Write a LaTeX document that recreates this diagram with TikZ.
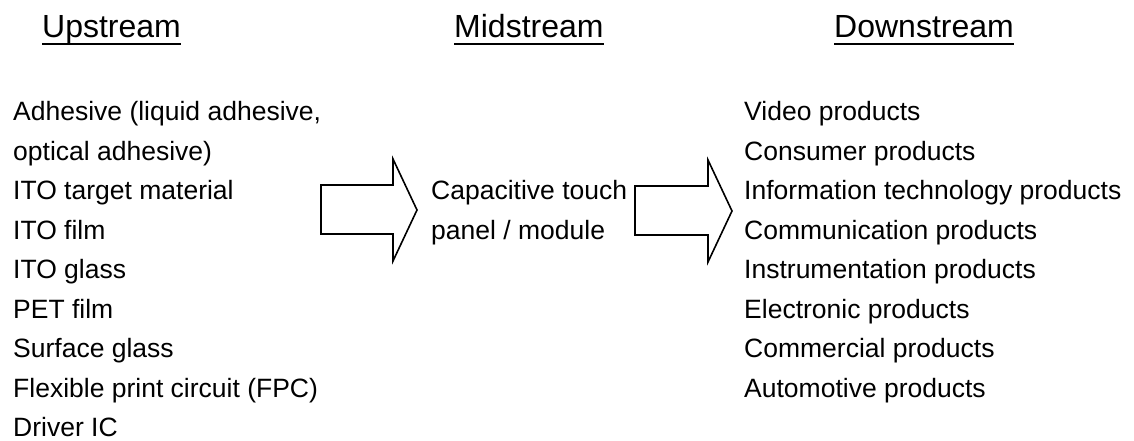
\documentclass[tikz,border=0pt]{standalone}
\usepackage{fontspec}
\setmainfont{Liberation Sans}
\begin{document}
\begin{tikzpicture}[x=1pt,y=-1pt,
  hdr/.style={anchor=base west,inner sep=0pt,font=\fontsize{32}{38}\selectfont},
  item/.style={anchor=base west,inner sep=0pt,font=\fontsize{26.5}{39.6}\selectfont},
  uline/.style={line width=2.6pt},
  blockarrow/.style={draw=black,line width=1.6pt,fill=white,line join=miter}]
\useasboundingbox (0,0) rectangle (1134,441);
% headers
\node[hdr] (up) at (42,38) {Upstream};
\node[hdr] (mid) at (454,38) {Midstream};
\node[hdr] (down) at (834,38) {Downstream};
\foreach \h in {up,mid,down}
  \draw[uline] ([yshift=-6pt]\h.base west) -- ([yshift=-6pt]\h.base east);
% upstream list
\foreach [count=\i from 0] \t in {{Adhesive (liquid adhesive,},optical adhesive),ITO target material,ITO film,ITO glass,PET film,Surface glass,Flexible print circuit (FPC),Driver IC}
  \node[item] (u\i) at (13,120.5+39.5*\i) {\t};
% midstream
\node[item] (m0) at (431,199.5) {Capacitive touch};
\node[item] (m1) at (431,239) {panel / module};
% downstream list
\foreach [count=\i from 0] \t in {Video products,Consumer products,Information technology products,Communication products,Instrumentation products,Electronic products,Commercial products,Automotive products}
  \node[item] (d\i) at (744,120.5+39.5*\i) {\t};
% block arrows
\draw[blockarrow] (321,185) -- (393,185) -- (393,159) -- (417,210) -- (393,261) -- (393,234) -- (321,234) -- cycle;
\draw[blockarrow] (635,186) -- (708,186) -- (708,160) -- (732,211) -- (708,262) -- (708,235) -- (635,235) -- cycle;
\end{tikzpicture}
\end{document}
